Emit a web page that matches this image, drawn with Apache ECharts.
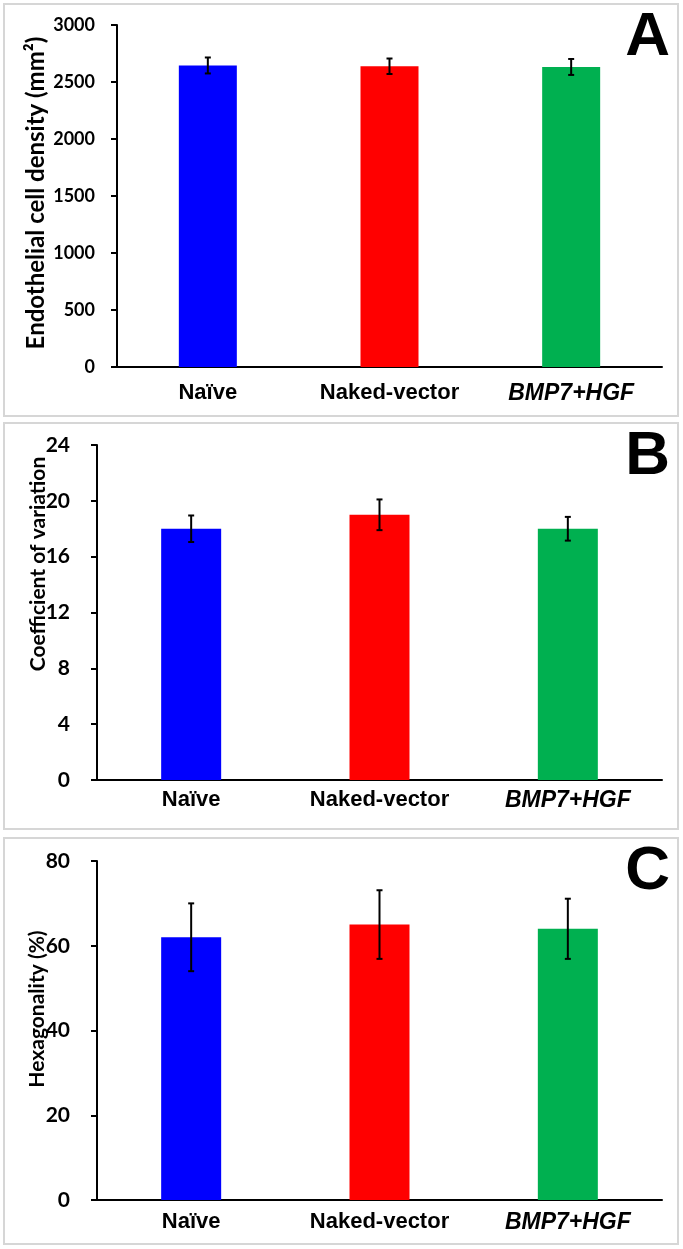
<!DOCTYPE html>
<html>
<head>
<meta charset="utf-8">
<script src="https://cdn.jsdelivr.net/npm/echarts@6/dist/echarts.min.js"></script>
<style>
  html, body { margin: 0; padding: 0; background: #fff; }
  body { width: 683px; height: 1249px; position: relative; overflow: hidden; }
  .panel {
    position: absolute;
    left: 3px;
    width: 676px;
    box-sizing: border-box;
    border: 2px solid #d6d6d6;
    background: #fff;
  }
  #panelA { top: 3px; height: 414px; }
  #panelB { top: 422px; height: 408px; }
  #panelC { top: 837px; height: 408px; }
  .chart { width: 100%; height: 100%; }
</style>
</head>
<body>
<div class="panel" id="panelA"><div class="chart" id="chartA"></div></div>
<div class="panel" id="panelB"><div class="chart" id="chartB"></div></div>
<div class="panel" id="panelC"><div class="chart" id="chartC"></div></div>

<script>
// groups on the x axis
const categories = ["Naïve", "Naked-vector", "BMP7+HGF"];
const barColors = ["#0000FF", "#FF0000", "#00B050"];

// A: endothelial cell density (mean, error)
const densityMean = [2645, 2638, 2632];
const densityErr = [70, 68, 70];
// B: coefficient of variation
const cvMean = [18, 19, 18];
const cvErr = [0.95, 1.1, 0.85];
// C: hexagonality (%)
const hexMean = [62, 65, 64];
const hexErr = [8, 8.1, 7.1];

// y axis ranges [min, max, step]
const densityAxis = [0, 3000, 500];
const cvAxis = [0, 24, 4];
const hexAxis = [0, 80, 20];

function errorSeries(mean, err) {
  return {
    type: "custom",
    z: 5,
    silent: true,
    data: mean.map((m, i) => [i, m, err[i]]),
    renderItem: function (params, api) {
      const i = api.value(0);
      const hi = api.coord([i, api.value(1) + api.value(2)]);
      const lo = api.coord([i, api.value(1) - api.value(2)]);
      const cap = 3;
      const style = { stroke: "#000", lineWidth: 2 };
      return {
        type: "group",
        children: [
          { type: "line", shape: { x1: hi[0], y1: hi[1], x2: lo[0], y2: lo[1] }, style: style },
          { type: "line", shape: { x1: hi[0] - cap, y1: hi[1], x2: hi[0] + cap, y2: hi[1] }, style: style },
          { type: "line", shape: { x1: lo[0] - cap, y1: lo[1], x2: lo[0] + cap, y2: lo[1] }, style: style },
        ],
      };
    },
  };
}

function drawPanel(cfg) {
  const chart = echarts.init(document.getElementById(cfg.id));
  const option = {
    animation: false,
    grid: cfg.grid,
    xAxis: {
      type: "category",
      data: categories,
      axisLine: { lineStyle: { color: "#000", width: 2 } },
      axisTick: { show: false },
      axisLabel: {
        interval: 0,
        hideOverlap: false,
        margin: cfg.catMargin,
        color: "#000",
        fontFamily: "Liberation Sans",
        fontWeight: "bold",
        fontSize: 22,
        formatter: function (v) {
          // the gene label is set in italics
          return v === "BMP7+HGF" ? "{i|" + v + "}" : v;
        },
        rich: {
          i: {
            fontFamily: "Liberation Sans",
            fontWeight: "bold",
            fontStyle: "italic",
            fontSize: 23,
            color: "#000",
          },
        },
      },
    },
    yAxis: {
      type: "value",
      min: cfg.axis[0],
      max: cfg.axis[1],
      interval: cfg.axis[2],
      splitLine: { show: false },
      axisLine: { show: true, lineStyle: { color: "#000", width: 2 } },
      axisTick: { show: true, length: 6, lineStyle: { color: "#000", width: 2 } },
      axisLabel: {
        margin: cfg.tickMargin,
        color: "#000",
        fontFamily: "Lato",
        fontWeight: "bold",
        fontSize: cfg.tickFont,
        formatter: function (v) { return String(v); },
      },
    },
    graphic: [
      {
        type: "text",
        x: cfg.titlePos[0],
        y: cfg.titlePos[1],
        rotation: Math.PI / 2,
        style: {
          text: cfg.title,
          align: "center",
          verticalAlign: "middle",
          fill: "#000",
          font: "bold " + cfg.titleFont + "px Lato",
        },
      },
      {
        type: "text",
        right: 7,
        top: cfg.letterTop,
        style: {
          text: cfg.letter,
          fill: "#000",
          font: "bold 62px 'Liberation Sans'",
        },
      },
    ],
    series: [
      {
        type: "bar",
        barWidth: cfg.barWidth,
        data: cfg.mean.map((v, i) => ({ value: v, itemStyle: { color: barColors[i] } })),
      },
      errorSeries(cfg.mean, cfg.err),
    ],
  };
  chart.setOption(option);
  return chart;
}

drawPanel({
  id: "chartA",
  letter: "A",
  title: "Endothelial cell density (mm²)",
  mean: densityMean,
  err: densityErr,
  axis: densityAxis,
  grid: { left: 112, top: 20, right: 15, bottom: 48 },
  barWidth: 58,
  tickFont: 18,
  tickMargin: 22,
  catMargin: 15,
  titleFont: 24,
  titlePos: [31, 188],
  letterTop: 2,
});

drawPanel({
  id: "chartB",
  letter: "B",
  title: "Coefficient of variation",
  mean: cvMean,
  err: cvErr,
  axis: cvAxis,
  grid: { left: 92, top: 21, right: 15, bottom: 48 },
  barWidth: 60,
  tickFont: 21,
  tickMargin: 27,
  catMargin: 9,
  titleFont: 21,
  titlePos: [33, 140],
  letterTop: 2,
});

drawPanel({
  id: "chartC",
  letter: "C",
  title: "Hexagonality (%)",
  mean: hexMean,
  err: hexErr,
  axis: hexAxis,
  grid: { left: 92, top: 22, right: 15, bottom: 43 },
  barWidth: 60,
  tickFont: 21,
  tickMargin: 27,
  catMargin: 11,
  titleFont: 21,
  titlePos: [32, 170],
  letterTop: 2,
});
</script>
</body>
</html>
